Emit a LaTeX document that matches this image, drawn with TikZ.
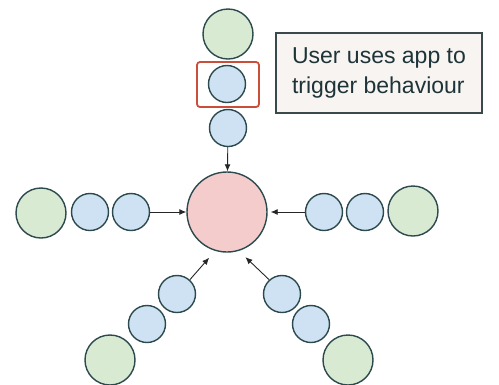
\documentclass[tikz,border=0pt]{standalone}
\usepackage{fontspec}
\setmainfont{Liberation Sans}
\usetikzlibrary{arrows.meta}
\definecolor{ringline}{HTML}{2C4A4E}
\definecolor{greenfill}{HTML}{D9EAD3}
\definecolor{bluefill}{HTML}{CFE2F3}
\definecolor{pinkfill}{HTML}{F4CCCC}
\definecolor{notefill}{HTML}{F8F4F2}
\definecolor{noteline}{HTML}{3A4A4C}
\definecolor{highlight}{HTML}{C94F3A}
\definecolor{textdark}{HTML}{1E3438}
\begin{document}
\begin{tikzpicture}[x=1pt,y=-1pt,
  ball/.style={circle,draw=ringline,line width=1.4pt,inner sep=0pt},
  outer/.style={ball,fill=greenfill,minimum size=50pt},
  inner/.style={ball,fill=bluefill,minimum size=37pt},
  hubball/.style={ball,fill=pinkfill,minimum size=80pt},
  feed/.style={draw=black!85,line width=0.9pt,-{Latex[length=7pt,width=6pt]}},
  note/.style={draw=noteline,line width=1.2pt,fill=notefill,minimum width=206pt,
    minimum height=80pt,align=left,text=textdark,font=\fontsize{23}{30}\selectfont},
  mark box/.style={draw=highlight,line width=1.8pt,rounded corners=3pt}]
\useasboundingbox (0,0) rectangle (499,384);

% hub
\node[hubball] (hub) at (227,212) {};

% top chain
\node[outer] (t0) at (228,34) {};
\node[inner] (t1) at (227,84) {};
\node[inner] (t2) at (228,128) {};
\draw[mark box] (197,62) rectangle (259,107);

% left chain
\node[outer] (l0) at (41,213) {};
\node[inner] (l1) at (90,212) {};
\node[inner] (l2) at (131,212) {};

% right chain
\node[inner] (r2) at (324,212) {};
\node[inner] (r1) at (365,212) {};
\node[outer] (r0) at (413,211) {};

% lower left chain
\node[inner] (bl2) at (177,294) {};
\node[inner] (bl1) at (147,324) {};
\node[outer] (bl0) at (110,360) {};

% lower right chain
\node[inner] (br2) at (282,294) {};
\node[inner] (br1) at (311,324) {};
\node[outer] (br0) at (348,360) {};

% arrows into the hub
\draw[feed] (t2) -- (hub);
\draw[feed] (l2) -- (hub);
\draw[feed,shorten >=3pt] (r2) -- (hub);
\draw[feed,shorten >=9pt] (bl2.48) -- (hub.253);
\draw[feed,shorten >=9pt] (br2.132) -- (hub.287);

% note
\node[note] (msg) at (379,73) {User uses app to\\trigger behaviour};
\end{tikzpicture}
\end{document}
